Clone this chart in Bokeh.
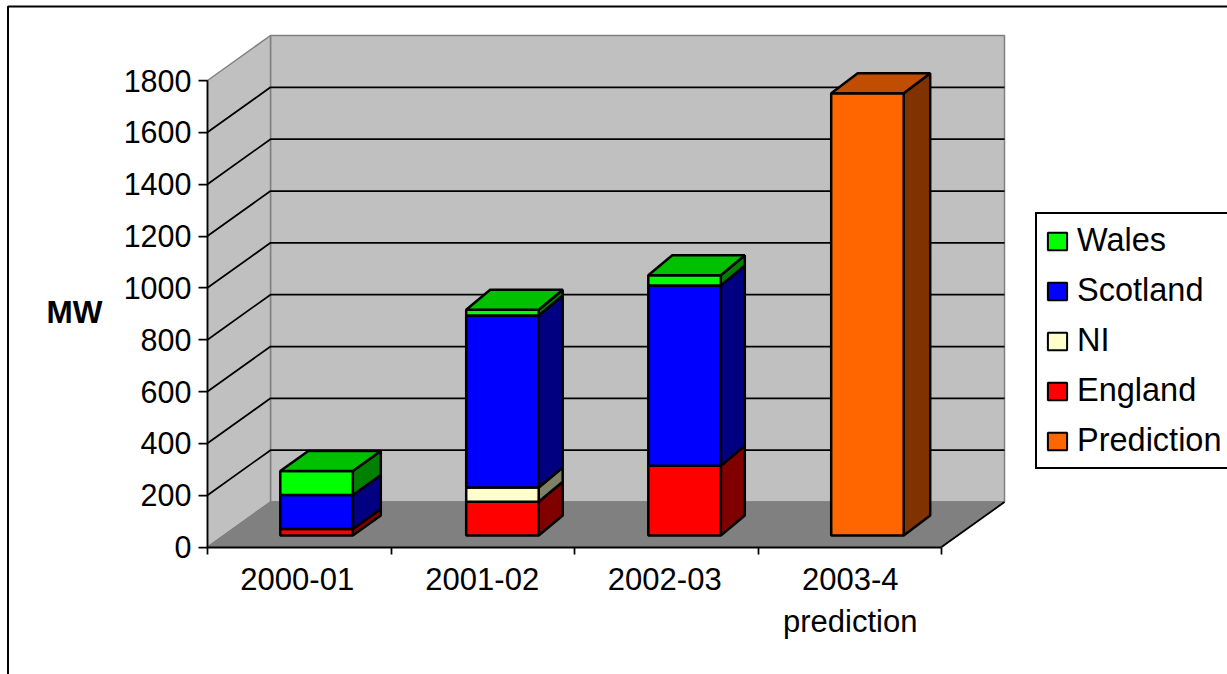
from bokeh.plotting import figure
from bokeh.embed import file_html
from bokeh.resources import INLINE
from bokeh.models import (LinearAxis, FixedTicker, Range1d, Legend, LegendItem, Label)

# ---- data
categories = ["2000-01", "2001-02", "2002-03", "2003-4\nprediction"]
england = [25, 130, 269, 0]
ni = [0, 55, 0, 0]
scotland = [131, 664, 696, 0]
wales = [93, 22, 39, 0]
prediction = [0, 0, 0, 1706]
y_ticks = [0, 200, 400, 600, 800, 1000, 1200, 1400, 1600, 1800]

W, H = 1227, 674
# plot box layout in pixels
X0, X1 = 207.0, 941.0      # front floor edge
Y0, Y1 = 546.5, 80.0       # value 0 and 1800 on the front plane
DPX, DPY = 63.0, 45.0      # depth offset of the back wall
VMAX = 1800.0
NCAT = 4
px_per_cat = (X1 - X0) / NCAT
px_per_val = (Y0 - Y1) / VMAX
DX = DPX / px_per_cat
DY = DPY / px_per_val

# bar layout (category units / depth fraction)
BAR_W = 72.5 / px_per_cat
BAR_NUDGE_PX = [1.2, 3.6, 2.2, 1.6]
BAR_SIDE_PX = [28.0, 24.0, 24.0, 26.5]   # horizontal depth of each column
D_FRONT = 11.5 / DPY       # front face of the bars on the depth axis
D_BAR = 20.0 / DPY         # bar depth
LABEL_NUDGE_PX = [-2.0, -0.5, -1.5, 0.5]

def dx(px):
    return (px - X0) / px_per_cat

def dy(py):
    return (Y0 - py) / px_per_val

def proj(c, v, d):
    return c + d * DX, v + d * DY

FONT = "Liberation Sans"

p = figure(width=W, height=H, output_backend="svg", toolbar_location=None,
           x_range=Range1d(dx(0), dx(W)), y_range=Range1d(dy(H), dy(0)),
           min_border=0, x_axis_type=None, y_axis_type=None,
           background_fill_color="white", border_fill_color="white",
           outline_line_color=None)
p.margin = (0, 0, 0, 0)
p.xgrid.visible = False
p.ygrid.visible = False

# chart-area border: runs off the right and bottom of the window
p.line([dx(7.5), dx(7.5), dx(W + 20)], [dy(H + 20), dy(6), dy(6)],
       line_color="black", line_width=2)

# walls and floor
def poly(corners):
    pts = [proj(*c) for c in corners]
    return [a for a, _ in pts], [b for _, b in pts]

wx, wy = poly([(0, 0, 1), (NCAT, 0, 1), (NCAT, VMAX, 1), (0, VMAX, 1)])
p.patch(wx, wy, fill_color="#C0C0C0", line_color="#808080", line_width=1.5)
sx, sy = poly([(0, 0, 0), (0, 0, 1), (0, VMAX, 1), (0, VMAX, 0)])
p.patch(sx, sy, fill_color="#C0C0C0", line_color="#808080", line_width=1.5)
fx, fy = poly([(0, 0, 0), (NCAT, 0, 0), (NCAT, 0, 1), (0, 0, 1)])
p.patch(fx, fy, fill_color="#808080", line_color="#808080", line_width=1.5)
rx, ry = poly([(NCAT, 0, 0), (NCAT, 0, 1)])
p.line(rx, ry, line_color="black", line_width=1.75)

# gridlines on both walls
for v in y_ticks[1:-1]:
    gx, gy = poly([(0, v, 0), (0, v, 1), (NCAT, v, 1)])
    p.line(gx, gy, line_color="black", line_width=1.75)

# axes
yax = LinearAxis(ticker=FixedTicker(ticks=y_ticks), fixed_location=0, bounds=(0, VMAX),
                 axis_line_color="black", axis_line_width=1.75,
                 major_tick_line_color="black", major_tick_line_width=1.75,
                 major_tick_out=9, major_tick_in=0, minor_tick_line_color=None,
                 major_label_text_font=FONT, major_label_text_font_size="30.5px",
                 major_label_text_color="black", major_label_standoff=7)
p.add_layout(yax, "left")

xax = LinearAxis(ticker=FixedTicker(ticks=list(range(NCAT + 1))), fixed_location=0,
                 bounds=(0, NCAT), axis_line_color="black", axis_line_width=2,
                 major_tick_line_color="black", major_tick_line_width=1.75,
                 major_tick_out=7, major_tick_in=0, minor_tick_line_color=None,
                 major_label_text_color=None, major_label_text_font_size="1px")
p.add_layout(xax, "below")

centres = [i + 0.5 + LABEL_NUDGE_PX[i] / px_per_cat for i in range(NCAT)]
xlab = LinearAxis(ticker=FixedTicker(ticks=centres), fixed_location=0,
                  axis_line_color=None, major_tick_line_color=None,
                  minor_tick_line_color=None, major_tick_out=0, major_tick_in=0,
                  major_label_overrides={c: t for c, t in zip(centres, categories)},
                  major_label_text_font=FONT, major_label_text_font_size="31px",
                  major_label_text_color="black", major_label_standoff=15)
p.add_layout(xlab, "below")

# stacked 3-D columns
series = [
    ("England", england, "#FF0000", "#800000", "#C00000"),
    ("NI", ni, "#FFFFCC", "#808066", "#C0C099"),
    ("Scotland", scotland, "#0000FF", "#000080", "#0000C0"),
    ("Wales", wales, "#00FF00", "#008000", "#00C000"),
    ("Prediction", prediction, "#FF6600", "#803300", "#C04D00"),
]
items = {}
LW = 2.5

def bar_poly(i, corners):
    """corners: (category x, value, 0 for front / 1 for back of this column)"""
    xs, ys = [], []
    for c, v, back in corners:
        x0, y0 = proj(c, v, D_FRONT)
        xs.append(x0 + back * BAR_SIDE_PX[i] / px_per_cat)
        ys.append(y0 + back * D_BAR * DY)
    return xs, ys

for i in range(NCAT):
    left = i + 0.5 + BAR_NUDGE_PX[i] / px_per_cat - BAR_W / 2
    right = left + BAR_W
    base = 0.0
    top_col = None
    for name, vals, front, side, top in series:
        v = vals[i]
        if v <= 0:
            continue
        sxs, sys = bar_poly(i, [(right, base, 0), (right, base, 1),
                                (right, base + v, 1), (right, base + v, 0)])
        p.patch(sxs, sys, fill_color=side, line_color="black", line_width=LW)
        fxs, fys = bar_poly(i, [(left, base, 0), (right, base, 0),
                                (right, base + v, 0), (left, base + v, 0)])
        p.patch(fxs, fys, fill_color=front, line_color="black", line_width=LW)
        base += v
        top_col = top
    txs, tys = bar_poly(i, [(left, base, 0), (right, base, 0),
                            (right, base, 1), (left, base, 1)])
    p.patch(txs, tys, fill_color=top_col, line_color="black", line_width=LW)

# legend, driven by swatch renderers (zero-size quads, real data colours)
for name, vals, front, side, top in series:
    items[name] = p.quad(left=[0], right=[0], bottom=[0], top=[0],
                         fill_color=front, line_color="black", line_width=2)

legend = Legend(
    items=[LegendItem(label=n, renderers=[items[n]])
           for n in ["Wales", "Scotland", "NI", "England", "Prediction"]],
    location=(1035, 205), orientation="vertical",
    glyph_width=24, glyph_height=22, label_width=150, label_height=37,
    label_standoff=8, spacing=13, padding=8, margin=0,
    label_text_font=FONT, label_text_font_size="32.5px", label_text_color="black",
    border_line_color="black", border_line_width=2, border_line_alpha=1,
    background_fill_color="white", background_fill_alpha=1,
)
p.add_layout(legend)

# value axis title
p.add_layout(Label(x=dx(46), y=dy(311), text="MW", text_font=FONT, text_font_size="31.5px",
                   text_font_style="bold", text_baseline="middle", text_align="left",
                   text_color="black"))

open("out.html", "w").write(file_html(p, INLINE))
